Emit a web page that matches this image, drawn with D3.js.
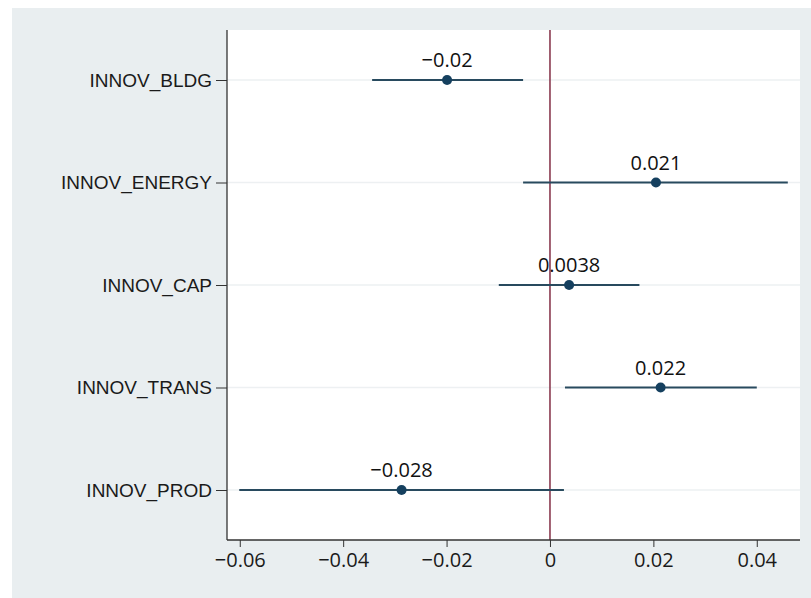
<!DOCTYPE html>
<html>
<head>
<meta charset="utf-8">
<script src="https://cdn.jsdelivr.net/npm/d3@7"></script>
<style>
  body { margin: 0; background: #fff; }
  svg { display: block; }
</style>
</head>
<body>
<svg id="svg"></svg>
<script>
// coefficient plot: point estimates with confidence intervals
const categories = ["INNOV_BLDG", "INNOV_ENERGY", "INNOV_CAP", "INNOV_TRANS", "INNOV_PROD"];
const estimates = [-0.0199, 0.0205, 0.0037, 0.0214, -0.0287];
const lowerCI = [-0.0344, -0.0052, -0.0099, 0.0029, -0.0601];
const upperCI = [-0.0052, 0.0460, 0.0173, 0.0400, 0.0027];
const pointLabels = ["\u22120.02", "0.021", "0.0038", "0.022", "\u22120.028"];
const xTicks = [-0.06, -0.04, -0.02, 0, 0.02, 0.04];

const W = 811, H = 598;
const svg = d3.select("#svg").attr("width", W).attr("height", H);

// outer grey panel
svg.append("rect").attr("x", 12).attr("y", 8).attr("width", W - 12).attr("height", H - 8)
    .attr("fill", "#e9eef0");

const plot = { left: 227, right: 800, top: 30, bottom: 540 };

svg.append("rect")
    .attr("x", plot.left).attr("y", plot.top)
    .attr("width", plot.right - plot.left).attr("height", plot.bottom - plot.top)
    .attr("fill", "#ffffff");

const x = d3.scaleLinear()
    .domain([-0.06247, 0.04836])
    .range([plot.left, plot.right]);

const y = d3.scalePoint()
    .domain(categories)
    .range([80, 490]);

// faint horizontal grid lines
svg.append("g").selectAll("line")
    .data(categories)
    .join("line")
    .attr("x1", plot.left).attr("x2", plot.right)
    .attr("y1", d => y(d)).attr("y2", d => y(d))
    .attr("stroke", "#edf0f2").attr("stroke-width", 1.5);

// zero reference line
svg.append("line")
    .attr("x1", x(0)).attr("x2", x(0))
    .attr("y1", plot.top).attr("y2", plot.bottom)
    .attr("stroke", "#8a3a50").attr("stroke-width", 1.6);

// confidence intervals
svg.append("g").selectAll("line")
    .data(categories)
    .join("line")
    .attr("x1", (d, i) => x(lowerCI[i]))
    .attr("x2", (d, i) => x(upperCI[i]))
    .attr("y1", d => y(d)).attr("y2", d => y(d))
    .attr("stroke", "#284a5e").attr("stroke-width", 2);

// point estimates
svg.append("g").selectAll("circle")
    .data(categories)
    .join("circle")
    .attr("cx", (d, i) => x(estimates[i]))
    .attr("cy", d => y(d))
    .attr("r", 5)
    .attr("fill", "#15405f");

// value labels
svg.append("g").selectAll("text")
    .data(categories)
    .join("text")
    .attr("x", (d, i) => x(estimates[i]))
    .attr("y", d => y(d) - 13)
    .attr("text-anchor", "middle")
    .attr("font-family", "'Open Sans', 'Noto Sans', sans-serif")
    .attr("font-size", 20)
    .attr("fill", "#111")
    .text((d, i) => pointLabels[i]);

// y axis
const yAxis = svg.append("g")
    .attr("transform", `translate(${plot.left},0)`)
    .call(d3.axisLeft(y).tickSize(11).tickPadding(4));
yAxis.select(".domain").attr("d", `M0,${plot.top}V${plot.bottom}`)
    .attr("stroke", "#333").attr("stroke-width", 1.3);
yAxis.selectAll(".tick line").attr("stroke", "#333");
yAxis.selectAll(".tick text")
    .attr("font-family", "'Liberation Sans', Arial, sans-serif")
    .attr("font-size", 19)
    .attr("fill", "#1a1a1a");

// x axis
const xAxis = svg.append("g")
    .attr("transform", `translate(0,${plot.bottom})`)
    .call(d3.axisBottom(x).tickValues(xTicks).tickSize(7).tickPadding(6)
        .tickFormat(d => d === 0 ? "0" : d3.format(".2f")(d).replace("-", "\u2212")));
xAxis.select(".domain").attr("d", `M${plot.left},0H${plot.right}`)
    .attr("stroke", "#333").attr("stroke-width", 1.3);
xAxis.selectAll(".tick line").attr("stroke", "#333");
xAxis.selectAll(".tick text")
    .attr("font-family", "'Open Sans', 'Noto Sans', sans-serif")
    .attr("font-size", 20)
    .attr("fill", "#1a1a1a");
</script>
</body>
</html>
